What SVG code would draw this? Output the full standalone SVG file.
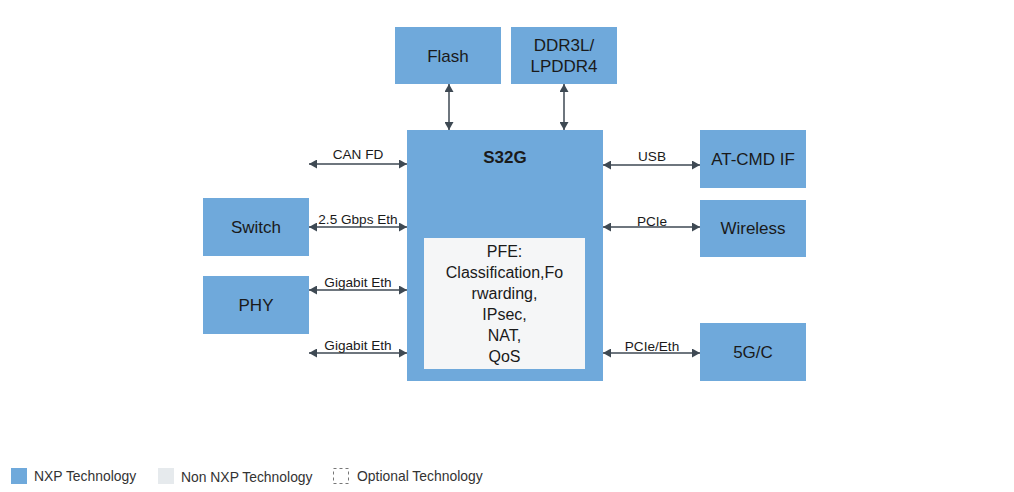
<svg xmlns="http://www.w3.org/2000/svg" width="1014" height="492" viewBox="0 0 1014 492">
<defs>
<style>
.nxp{fill:#6FA9DB;}
.lbl{font-family:"Liberation Sans",Arial,sans-serif;font-size:17px;fill:#1a1a1a;text-anchor:middle;}
.pfe{font-family:"Liberation Sans",Arial,sans-serif;font-size:16px;fill:#1a1a1a;text-anchor:middle;}
.el{font-family:"Liberation Sans",Arial,sans-serif;font-size:13.6px;fill:#1a1a1a;text-anchor:middle;}
.lg{font-family:"Liberation Sans",Arial,sans-serif;font-size:13.9px;fill:#333;}
.conn{stroke:#3E4953;stroke-width:1.5;fill:none;marker-start:url(#ah);marker-end:url(#ah);}
</style>
<marker id="ah" markerUnits="userSpaceOnUse" markerWidth="9" markerHeight="9" refX="8" refY="4.5" orient="auto-start-reverse">
<path d="M0,0 L8,4.5 L0,9 z" fill="#3E4953"/>
</marker>
</defs>
<rect width="1014" height="492" fill="#ffffff"/>

<g id="connectors">
<line class="conn" x1="449" y1="84" x2="449" y2="130"/>
<line class="conn" x1="564" y1="84" x2="564" y2="130"/>
<line class="conn" x1="309" y1="164" x2="407" y2="164"/>
<line class="conn" x1="309" y1="227" x2="407" y2="227"/>
<line class="conn" x1="309" y1="290" x2="407" y2="290"/>
<line class="conn" x1="309" y1="353" x2="407" y2="353"/>
<line class="conn" x1="603" y1="165" x2="700" y2="165"/>
<line class="conn" x1="603" y1="227" x2="700" y2="227"/>
<line class="conn" x1="603" y1="353" x2="700" y2="353"/>
<text class="el" x="358" y="159">CAN FD</text>
<text class="el" x="358" y="224">2.5 Gbps Eth</text>
<text class="el" x="358" y="287">Gigabit Eth</text>
<text class="el" x="358" y="350">Gigabit Eth</text>
<text class="el" x="652" y="161">USB</text>
<text class="el" x="652" y="226">PCIe</text>
<text class="el" x="652" y="351">PCIe/Eth</text>
</g>

<g id="flash">
<rect class="nxp" x="395" y="27" width="106" height="57"/>
<text class="lbl" x="448" y="62">Flash</text>
</g>
<g id="ddr">
<rect class="nxp" x="511" y="27" width="106" height="57"/>
<text class="lbl" x="564" y="51">DDR3L/</text>
<text class="lbl" x="564" y="72">LPDDR4</text>
</g>
<g id="s32g">
<rect class="nxp" x="407" y="130" width="196" height="251"/>
<text class="lbl" x="505" y="163" font-weight="bold">S32G</text>
</g>
<g id="pfe">
<rect x="424" y="238" width="161" height="131" fill="#F5F6F7"/>
<text class="pfe" x="504.5" y="257">PFE:</text>
<text class="pfe" x="504.5" y="278">Classification,Fo</text>
<text class="pfe" x="504.5" y="299">rwarding,</text>
<text class="pfe" x="504.5" y="320">IPsec,</text>
<text class="pfe" x="504.5" y="341">NAT,</text>
<text class="pfe" x="504.5" y="362">QoS</text>
</g>
<g id="switch">
<rect class="nxp" x="203" y="198" width="106" height="58"/>
<text class="lbl" x="256" y="233">Switch</text>
</g>
<g id="phy">
<rect class="nxp" x="203" y="276" width="106" height="58"/>
<text class="lbl" x="256" y="311">PHY</text>
</g>
<g id="atcmd">
<rect class="nxp" x="700" y="130" width="106" height="58"/>
<text class="lbl" x="753" y="165">AT-CMD IF</text>
</g>
<g id="wireless">
<rect class="nxp" x="700" y="200" width="106" height="57"/>
<text class="lbl" x="753" y="234">Wireless</text>
</g>
<g id="g5c">
<rect class="nxp" x="700" y="323" width="106" height="58"/>
<text class="lbl" x="753" y="358">5G/C</text>
</g>

<g id="legend">
<rect class="nxp" x="11" y="468" width="16" height="16"/>
<text class="lg" x="34" y="481">NXP Technology</text>
<rect x="158" y="468" width="16" height="16" fill="#E6EAED"/>
<text class="lg" x="181" y="482">Non NXP Technology</text>
<rect x="333.5" y="468.5" width="15" height="15" fill="none" stroke="#777" stroke-width="1" stroke-dasharray="3,3"/>
<text class="lg" x="357" y="481">Optional Technology</text>
</g>
</svg>
